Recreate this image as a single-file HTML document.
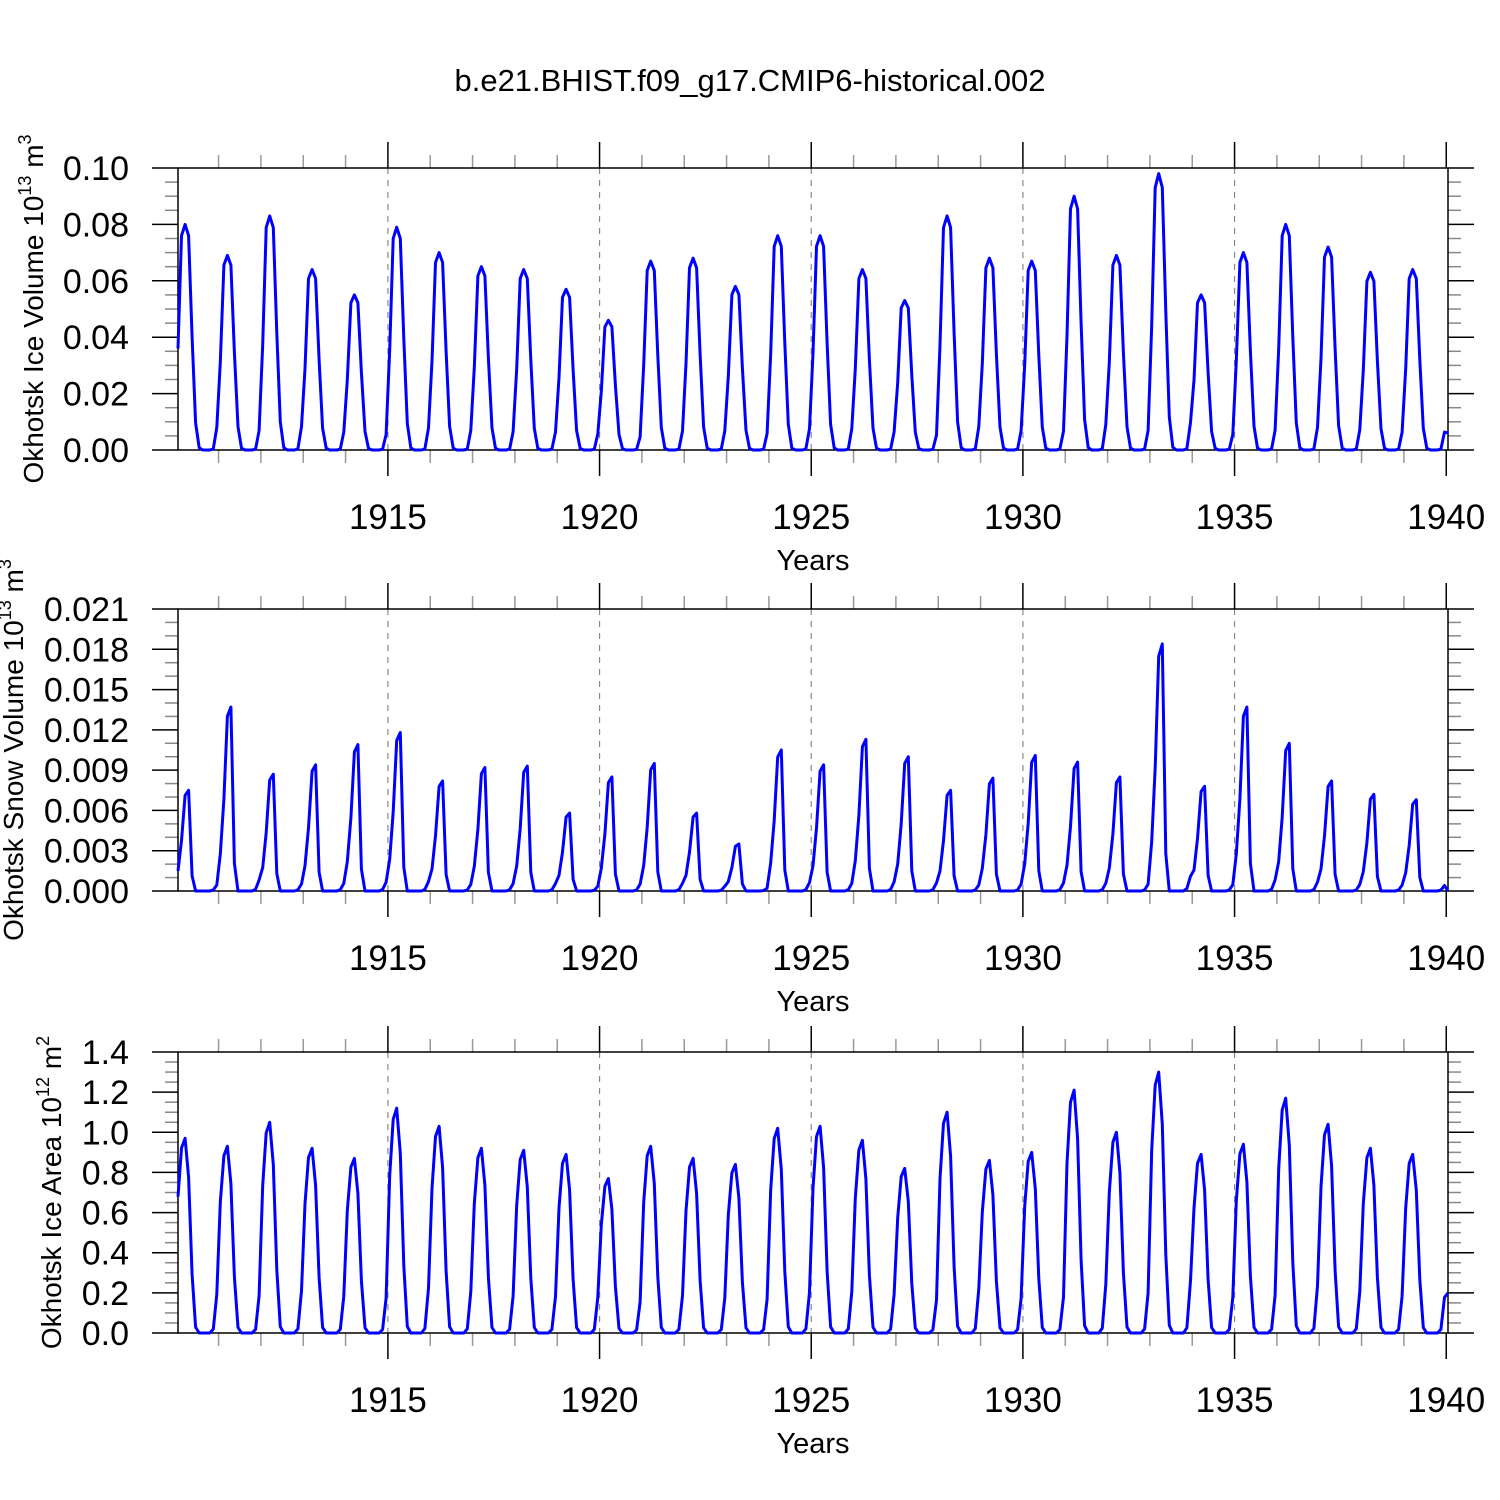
<!DOCTYPE html>
<html><head><meta charset="utf-8"><style>
body{margin:0;background:#fff}
svg{display:block;font-family:"Liberation Sans",sans-serif}
</style></head><body>
<svg id="chart" width="1500" height="1500" xmlns="http://www.w3.org/2000/svg">
<text x="750" y="91" font-size="31" text-anchor="middle">b.e21.BHIST.f09_g17.CMIP6-historical.002</text>
</svg>
<script>
const years=[1910,1911,1912,1913,1914,1915,1916,1917,1918,1919,1920,1921,1922,1923,1924,1925,1926,1927,1928,1929,1930,1931,1932,1933,1934,1935,1936,1937,1938,1939];
const xTickLabels=[1915,1920,1925,1930,1935,1940];
const iceVolPeaks=[0.080,0.069,0.083,0.064,0.055,0.079,0.070,0.065,0.064,0.057,0.046,0.067,0.068,0.058,0.076,0.076,0.064,0.053,0.083,0.068,0.067,0.090,0.069,0.098,0.055,0.070,0.080,0.072,0.063,0.064];
const iceVolShape=[0.45,0.95,1.0,0.95,0.5,0.12,0.01,0,0,0,0.005,0.1];
const snowPeaks=[0.0075,0.0137,0.0087,0.0094,0.0109,0.0118,0.0082,0.0092,0.0093,0.0058,0.0085,0.0095,0.0058,0.0035,0.0105,0.0094,0.0113,0.0100,0.0075,0.0084,0.0101,0.0096,0.0085,0.0184,0.0078,0.0137,0.0110,0.0082,0.0072,0.0068];
const snowShape=[0.2,0.5,0.95,1.0,0.15,0,0,0,0,0,0.01,0.06];
const areaPeaks=[0.97,0.93,1.05,0.92,0.87,1.12,1.03,0.92,0.91,0.89,0.77,0.93,0.87,0.84,1.02,1.03,0.96,0.82,1.10,0.86,0.90,1.21,1.00,1.30,0.89,0.94,1.17,1.04,0.92,0.89];
const areaShape=[0.7,0.95,1.0,0.8,0.3,0.03,0,0,0,0,0.02,0.2];
const iceVolTicks=["0.00","0.02","0.04","0.06","0.08","0.10"];
const snowTicks=["0.000","0.003","0.006","0.009","0.012","0.015","0.018","0.021"];
const areaTicks=["0.0","0.2","0.4","0.6","0.8","1.0","1.2","1.4"];
const lastVals=[0.006,0.0,0.2];

const svg=document.getElementById('chart');
const NS='http://www.w3.org/2000/svg';
function mk(tag,attrs,parent){const e=document.createElementNS(NS,tag);for(const k in attrs)e.setAttribute(k,attrs[k]);(parent||svg).appendChild(e);return e;}
const L=178,R=1448,X0=1910+1/24,X1=1940+1/24;
const xs=v=>L+(v-X0)/(X1-X0)*(R-L);

const panels=[
 {name:'ice-volume',top:168,bot:450,peaks:iceVolPeaks,shape:iceVolShape,ticks:iceVolTicks,minorPer:4,max:0.10,title:'Okhotsk Ice Volume 10',sup:'13',unit:' m',usup:'3',tx:32,last:lastVals[0]},
 {name:'snow-volume',top:609,bot:891,peaks:snowPeaks,shape:snowShape,ticks:snowTicks,minorPer:3,max:0.021,title:'Okhotsk Snow Volume 10',sup:'13',unit:' m',usup:'3',tx:12,last:lastVals[1]},
 {name:'ice-area',top:1052,bot:1333,peaks:areaPeaks,shape:areaShape,ticks:areaTicks,minorPer:4,max:1.4,title:'Okhotsk Ice Area 10',sup:'12',unit:' m',usup:'2',tx:50,last:lastVals[2]}
];
panels.forEach(p=>{
 const g=mk('g',{});
 
 
 const ys=v=>p.bot-v/p.max*(p.bot-p.top);
 for(let y=1915;y<=1935;y+=5){const l=mk('line',{x1:xs(y),x2:xs(y),y1:p.top,y2:p.bot,stroke:'#888','stroke-width':1.2,'stroke-dasharray':'6,6'},g);
  }
 for(let y=1911;y<=1940;y++){const maj=y%5==0;const len=maj?26:13;const c=maj?'#000':'#999';
  mk('line',{x1:xs(y),x2:xs(y),y1:p.top-len,y2:p.top,stroke:c,'stroke-width':1.5},g);
  mk('line',{x1:xs(y),x2:xs(y),y1:p.bot,y2:p.bot+len,stroke:c,'stroke-width':1.5},g);}
 xTickLabels.forEach(y=>{const t=mk('text',{x:xs(y),y:p.bot+79,'font-size':35,'text-anchor':'middle'},g);t.textContent=y;
  });
 const xt=mk('text',{x:813,y:p.bot+120,'font-size':29,'text-anchor':'middle'},g);xt.textContent='Years';
 
 const n=p.ticks.length-1;
 for(let i=0;i<=n*p.minorPer;i++){const v=i/(n*p.minorPer)*p.max;const maj=i%p.minorPer==0;const len=maj?26:13;const c=maj?'#000':'#888';
  mk('line',{x1:L-len,x2:L,y1:ys(v),y2:ys(v),stroke:c,'stroke-width':1.5},g);
  mk('line',{x1:R,x2:R+len,y1:ys(v),y2:ys(v),stroke:c,'stroke-width':1.5},g);}
 p.ticks.forEach((s,i)=>{const t=mk('text',{x:129,y:ys(i/n*p.max)+12,'font-size':34,'text-anchor':'end'},g);t.textContent=s;
  });
 mk('rect',{x:L,y:p.top,width:R-L,height:p.bot-p.top,fill:'none',stroke:'#000','stroke-width':1.5},g);
 const cy=(p.top+p.bot)/2;
 const yt=mk('text',{x:p.tx,y:cy+11,'font-size':28,'text-anchor':'middle',transform:`rotate(-90 ${p.tx} ${cy})`},g);
 
 yt.innerHTML=`${p.title}<tspan dy="-12" font-size="18">${p.sup}</tspan><tspan dy="12">${p.unit}</tspan><tspan dy="-12" font-size="18">${p.usup}</tspan>`;
 let pts=[];
 years.forEach((yr,i)=>{p.shape.forEach((s,m)=>{pts.push([xs(yr+(m+0.5)/12),ys(p.peaks[i]*s)]);});});
 pts.push([xs(1940+1/24),ys(p.last)]);
 const path=mk('path',{d:'M'+pts.map(q=>q[0].toFixed(1)+','+q[1].toFixed(1)).join('L'),fill:'none',stroke:'#0000ff','stroke-width':3,'stroke-linejoin':'round'},g);
 
 
});
</script>
</body></html>
